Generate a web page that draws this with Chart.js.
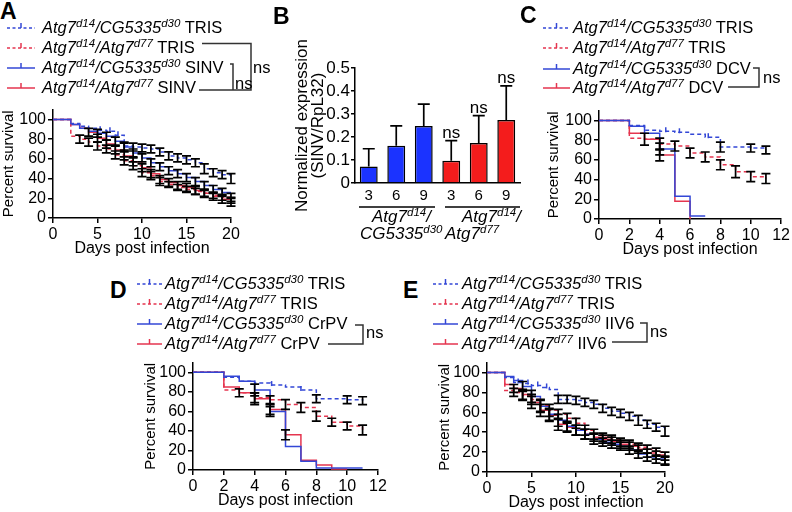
<!DOCTYPE html>
<html>
<head>
<meta charset="utf-8">
<script src="https://cdn.jsdelivr.net/npm/chart.js@4.4.1/dist/chart.umd.min.js"></script>
<style>
body { margin: 0; background: #fff; }
#fig { position: relative; width: 792px; height: 512px; overflow: hidden; font-family: 'Liberation Sans', Arial, sans-serif; color: #000; }
canvas { position: absolute; }
.lab { position: absolute; font-size: 23px; font-weight: bold; line-height: 23px; }
.row { position: absolute; height: 20px; line-height: 20px; font-size: 16.5px; white-space: nowrap; }
.row svg { position: absolute; top: 5px; left: 0; }
.row span { position: absolute; top: 0; }
.grp { position: absolute; height: 20px; line-height: 20px; font-size: 17px; font-style: italic; white-space: nowrap; }
sup { font-size: 11.5px; vertical-align: 6px; line-height: 0; }
.ns { position: absolute; font-size: 16.5px; line-height: 20px; }
</style>
</head>
<body>
<div id="fig">
  <canvas id="cA" width="243" height="160" style="left:0px;top:98px"></canvas>
  <canvas id="cB" width="230" height="195" style="left:295px;top:20px"></canvas>
  <canvas id="cC" width="247" height="160" style="left:545px;top:99px"></canvas>
  <canvas id="cD" width="248" height="159" style="left:142px;top:351px"></canvas>
  <canvas id="cE" width="241" height="161" style="left:436px;top:351px"></canvas>

  <div class="lab" style="left:0px;top:0px">A</div>
  <div class="lab" style="left:273px;top:5px">B</div>
  <div class="lab" style="left:520px;top:4px">C</div>
  <div class="lab" style="left:110px;top:279px">D</div>
  <div class="lab" style="left:403px;top:279px">E</div>

  <svg width="792" height="512" style="position:absolute;left:0;top:0" fill="none">
    <g stroke="#333" stroke-width="1.5">
      <path d="M202 43.5 H251 V90 H199"/>
      <path d="M230 64 H233 V90"/>
      <path d="M753 68 H759 V87 H728"/>
      <path d="M355 325 H363 V344 H328"/>
      <path d="M640 323 H647 V342 H612"/>
    </g>
    <g stroke="#000" stroke-width="1.5">
      <path d="M359 207 H435"/>
      <path d="M445 207 H520"/>
    </g>
  </svg>

  <div class="ns" style="left:253px;top:57px">ns</div>
  <div class="ns" style="left:235px;top:73px">ns</div>
  <div class="ns" style="left:763px;top:67px">ns</div>
  <div class="ns" style="left:366px;top:322px">ns</div>
  <div class="ns" style="left:650px;top:321px">ns</div>

  <div class="grp" style="left:372px;top:207px">Atg7<sup>d14</sup>/</div>
  <div class="grp" style="left:360px;top:224px">CG5335<sup>d30</sup></div>
  <div class="grp" style="left:462px;top:207px">Atg7<sup>d14</sup>/</div>
  <div class="grp" style="left:445px;top:224px">Atg7<sup>d77</sup></div>
</div>

<script>
// ---- panel A: SINV survival ----
const daysA = [0, 2, 3, 4, 5, 6, 7, 8, 9, 10, 11, 12, 13, 14, 15, 16, 17, 18, 19, 20];
const aCgTris = [100, 96, 93, 91, 89, 88, 84, 73, 72, 71, 70, 67, 63, 61, 59, 56, 50, 46, 44, 40];
const aCgTrisErr = [null, null, null, null, null, null, null, 4, 4, 4, 4, 4, 4, 4, 4, 4, 5, 4, 4, 5];
const aCgTrisCensor = [5.3, 6.4, 7.3];
const a77Tris = [100, 83, 80, 77, 73, 70, 64, 58, 53, 46, 43, 37, 34, 31, 29, 27, 25, 23, 21, 18];
const a77TrisErr = [null, null, 4, 4, 4, 4, 4, 4, 4, 4, 4, 4, 3, 3, 3, 3, 3, 3, 3, 3];
const aCgSinv = [100, 95, 91, 88, 86, 83, 78, 72, 66, 61, 56, 52, 48, 45, 41, 37, 33, 29, 26, 21];
const aCgSinvErr = [null, null, null, null, 4, 4, 4, 4, 4, 4, 4, 4, 4, 4, 4, 4, 4, 4, 4, 4];
const a77Sinv = [100, 95, 91, 87, 81, 75, 69, 63, 57, 51, 45, 39, 36, 33, 31, 28, 25, 22, 19, 16];
const a77SinvErr = [null, null, null, 4, 4, 4, 4, 4, 4, 4, 4, 4, 4, 4, 4, 4, 4, 4, 4, 4];

// ---- panel B: viral load ----
const bLabels = ['3', '6', '9', '3', '6', '9'];
const bMeans = [0.072, 0.162, 0.248, 0.097, 0.174, 0.274];
const bSd = [0.077, 0.086, 0.095, 0.087, 0.119, 0.148];
const bSig = ['', '', '', 'ns', 'ns', 'ns'];
const bTicks = [0, 0.1, 0.2, 0.3, 0.4, 0.5];

// ---- panel C: DCV survival ----
const daysC = [0, 2, 3, 4, 5, 6, 7, 8, 9, 10, 11];
const cCgTris = [100, 95, 90, 89, 88, 86, 83, 73, 73, 72, 70];
const cCgTrisErr = [null, null, null, null, null, null, null, 5, null, 4, 4];
const cCgTrisCensor = [4.4, 5.3, 7.2];
const c77Tris = [100, 82, 81, 76, 74, 67, 63, 55, 48, 43, 41];
const c77TrisErr = [null, null, 6, 6, 5, 5, 5, 5, 6, 5, 5];
const daysCCgDcv = [0, 2, 3, 4, 5, 6, 7];
const cCgDcv = [100, 94, 87, 71, 23, 3, 3];
const cCgDcvErr = [null, null, null, 6, null, null, null];
const daysC77Dcv = [0, 2, 3, 4, 5, 6];
const c77Dcv = [100, 87, 81, 65, 18, 0];
const c77DcvErr = [null, null, null, 6, null, null];

// ---- panel D: CrPV survival ----
const daysD = [0, 2, 3, 4, 5, 6, 7, 8, 9, 10, 11];
const dCgTris = [100, 95, 91, 89, 87, 85, 82, 73, 73, 72, 71];
const dCgTrisErr = [null, null, null, null, null, null, null, 4, null, 4, 4];
const dCgTrisCensor = [5.1, 7.0];
const d77Tris = [100, 82, 79, 74, 72, 67, 64, 55, 49, 45, 41];
const d77TrisErr = [null, null, 4, 5, 4, 5, 5, 5, 4, 4, 5];
const dCgCrpv = [100, 96, 91, 82, 60, 24, 9, 2, 2, 2, 2];
const dCgCrpvErr = [null, null, null, 6, 5, null, null, null, null, null, null];
const daysD77Crpv = [0, 2, 3, 4, 5, 6, 7, 8, 9, 10];
const d77Crpv = [100, 85, 79, 73, 62, 36, 10, 5, 1, 1];
const d77CrpvErr = [null, null, null, 6, 5, 5, null, null, null, null];

// ---- panel E: IIV6 survival ----
const daysE = [0, 2, 3, 4, 5, 6, 7, 8, 9, 10, 11, 12, 13, 14, 15, 16, 17, 18, 19, 20];
const eCgTris = [100, 95, 90, 89, 87, 85, 83, 73, 73, 72, 70, 68, 64, 61, 59, 56, 52, 48, 45, 41];
const eCgTrisErr = [null, null, null, null, null, null, null, 4, 4, 4, 4, 4, 4, 4, 4, 4, 5, 4, 4, 5];
const eCgTrisCensor = [3.5, 4.6, 5.7, 6.7];
const e77Tris = [100, 82, 80, 77, 73, 67, 62, 58, 54, 49, 42, 38, 35, 33, 30, 28, 25, 23, 20, 16];
const e77TrisErr = [null, null, 4, 5, 5, 6, 6, 5, 5, 5, 5, 5, 4, 4, 4, 4, 4, 4, 4, 4];
const eCgIiv6 = [100, 96, 92, 86, 76, 66, 58, 52, 46, 42, 38, 33, 30, 28, 26, 22, 18, 15, 13, 11];
const eCgIiv6Err = [null, null, null, 5, 6, 6, 6, 6, 5, 5, 5, 5, 4, 4, 4, 4, 4, 4, 4, 4];
const e77Iiv6 = [100, 88, 84, 78, 70, 62, 57, 48, 45, 42, 38, 35, 33, 31, 28, 26, 23, 19, 17, 12];
const e77Iiv6Err = [null, null, 4, 5, 6, 6, 6, 6, 5, 5, 5, 4, 4, 4, 4, 4, 4, 4, 4, 4];

const survivalTicks = [0, 20, 40, 60, 80, 100];

const BLUE = '#3347d6';
const RED = '#e5354f';
const CG = '<i>Atg7<sup>d14</sup>/CG5335<sup>d30</sup></i>';
const D77 = '<i>Atg7<sup>d14</sup>/Atg7<sup>d77</sup></i>';

Chart.defaults.font.family = "'Liberation Sans', Arial, sans-serif";
Chart.defaults.font.size = 16;
Chart.defaults.color = '#000';

// error bars, censor ticks and "ns" labels, all placed through the chart's scales
const errorBars = {
  id: 'errorBars',
  afterDatasetsDraw(chart) {
    const ctx = chart.ctx;
    const xs = chart.scales.x;
    const ys = chart.scales.y;
    ctx.save();
    chart.data.datasets.forEach((ds, i) => {
      // censor marks: small vertical ticks on the step curve
      if (ds.censor) {
        ctx.strokeStyle = ds.borderColor;
        ctx.lineWidth = 1.5;
        ds.censor.forEach(c => {
          let v = ds.data[0].y;
          ds.data.forEach(p => { if (p.x <= c) v = p.y; });
          const px = xs.getPixelForValue(c);
          const py = ys.getPixelForValue(v);
          ctx.beginPath();
          ctx.moveTo(px, py - 4); ctx.lineTo(px, py + 1);
          ctx.stroke();
        });
      }
      if (!ds.err) return;
      ctx.strokeStyle = '#000';
      ctx.fillStyle = '#000';
      ctx.lineWidth = 1.7;
      const meta = chart.getDatasetMeta(i);
      const cap = ds.cap || 4.5;
      ds.data.forEach((p, j) => {
        const e = ds.err[j];
        if (e == null) return;
        const v = typeof p === 'object' ? p.y : p;
        const x = meta.data[j].x;
        const top = ys.getPixelForValue(v + e);
        const bot = ds.upOnly ? ys.getPixelForValue(v) : ys.getPixelForValue(v - e);
        ctx.beginPath();
        ctx.moveTo(x, top); ctx.lineTo(x, bot);
        ctx.moveTo(x - cap, top); ctx.lineTo(x + cap, top);
        if (!ds.upOnly) { ctx.moveTo(x - cap, bot); ctx.lineTo(x + cap, bot); }
        ctx.stroke();
        if (ds.sig && ds.sig[j]) {
          ctx.font = "17px 'Liberation Sans', Arial, sans-serif";
          ctx.textAlign = 'center';
          ctx.textBaseline = 'alphabetic';
          ctx.fillText(ds.sig[j], x, top - 3);
        }
      });
    });
    ctx.restore();
  }
};

function curve(days, vals, err, color, dash, censor) {
  return {
    data: days.map((d, i) => ({ x: d, y: vals[i] })),
    err: err,
    censor: censor,
    borderColor: color,
    borderWidth: 1.5,
    borderDash: dash ? [4, 3] : [],
    stepped: true,
    pointRadius: 0,
    fill: false
  };
}

function survival(id, xmax, xstep, yw, pr, datasets) {
  new Chart(document.getElementById(id), {
    type: 'line',
    data: { datasets: datasets },
    options: {
      responsive: false,
      animation: false,
      layout: { padding: { top: 5, right: pr, left: 0, bottom: 0 } },
      plugins: { legend: { display: false }, tooltip: { enabled: false } },
      scales: {
        x: {
          type: 'linear', min: 0, max: xmax,
          ticks: { stepSize: xstep, padding: 2, maxRotation: 0, autoSkip: false },
          grid: { drawOnChartArea: false, tickLength: 5, color: '#000', lineWidth: 1.5 },
          border: { color: '#000', width: 1.5 },
          title: { display: true, text: 'Days post infection', padding: 0 },
          afterFit: s => { s.height = 40; }
        },
        y: {
          min: 0, max: 110,
          afterBuildTicks: s => { s.ticks = survivalTicks.map(v => ({ value: v })); },
          ticks: { padding: 2, autoSkip: false },
          grid: { drawOnChartArea: false, tickLength: 5, color: '#000', lineWidth: 1.5 },
          border: { color: '#000', width: 1.5 },
          title: { display: true, text: 'Percent survival', font: { size: 15 }, padding: 0 },
          afterFit: s => { s.width = yw; }
        }
      }
    },
    plugins: [errorBars]
  });
}

survival('cA', 20, 5, 53, 12, [
  curve(daysA, aCgTris, aCgTrisErr, BLUE, true, aCgTrisCensor),
  curve(daysA, a77Tris, a77TrisErr, RED, true),
  curve(daysA, aCgSinv, aCgSinvErr, BLUE, false),
  curve(daysA, a77Sinv, a77SinvErr, RED, false)
]);
survival('cC', 12, 2, 54, 9, [
  curve(daysC, cCgTris, cCgTrisErr, BLUE, true, cCgTrisCensor),
  curve(daysC, c77Tris, c77TrisErr, RED, true),
  curve(daysCCgDcv, cCgDcv, cCgDcvErr, BLUE, false),
  curve(daysC77Dcv, c77Dcv, c77DcvErr, RED, false)
]);
survival('cD', 12, 2, 51, 12, [
  curve(daysD, dCgTris, dCgTrisErr, BLUE, true, dCgTrisCensor),
  curve(daysD, d77Tris, d77TrisErr, RED, true),
  curve(daysD, dCgCrpv, dCgCrpvErr, BLUE, false),
  curve(daysD77Crpv, d77Crpv, d77CrpvErr, RED, false)
]);
survival('cE', 20, 5, 51, 12, [
  curve(daysE, eCgTris, eCgTrisErr, BLUE, true, eCgTrisCensor),
  curve(daysE, e77Tris, e77TrisErr, RED, true),
  curve(daysE, eCgIiv6, eCgIiv6Err, BLUE, false),
  curve(daysE, e77Iiv6, e77Iiv6Err, RED, false)
]);

// panel B bars
new Chart(document.getElementById('cB'), {
  type: 'bar',
  data: {
    labels: bLabels,
    datasets: [{
      data: bMeans,
      err: bSd,
      sig: bSig,
      upOnly: true,
      cap: 6,
      backgroundColor: bMeans.map((v, i) => i < 3 ? '#1b33ff' : '#f41c1c'),
      borderColor: '#000',
      borderWidth: 1.5,
      barPercentage: 0.65,
      categoryPercentage: 1
    }]
  },
  options: {
    responsive: false,
    animation: false,
    layout: { padding: { top: 48, right: 5, left: 0, bottom: 8 } },
    plugins: { legend: { display: false }, tooltip: { enabled: false } },
    scales: {
      x: {
        ticks: { padding: 4, font: { size: 15 }, autoSkip: false },
        grid: { drawOnChartArea: false, drawTicks: false },
        border: { color: '#000', width: 1.5 },
        afterFit: s => { s.height = 24; }
      },
      y: {
        min: 0, max: 0.5,
        afterBuildTicks: s => { s.ticks = bTicks.map(v => ({ value: v })); },
        ticks: { padding: 1, font: { size: 17 }, autoSkip: false, callback: v => String(v) },
        grid: { drawOnChartArea: false, tickLength: 4, color: '#000', lineWidth: 1.5 },
        border: { color: '#000', width: 1.5 },
        title: { display: true, text: ['Normalized expression', '(SINV/RpL32)'], font: { size: 17, lineHeight: 0.9 }, padding: 0 },
        afterFit: s => { s.width = 60; }
      }
    }
  },
  plugins: [errorBars]
});

// legends
function legendRow(x, cy, w, textX, color, dash, html) {
  const d = document.createElement('div');
  d.className = 'row';
  d.style.left = x + 'px';
  d.style.top = (cy - 10) + 'px';
  const m = w / 2;
  d.innerHTML =
    '<svg width="' + w + '" height="10"><line x1="0" y1="6" x2="' + w + '" y2="6" stroke="' + color +
    '" stroke-width="1.5"' + (dash ? ' stroke-dasharray="3,2.5"' : '') + '/>' +
    '<line x1="' + m + '" y1="1" x2="' + m + '" y2="6" stroke="' + color + '" stroke-width="1.5"/></svg>' +
    '<span style="left:' + (textX - x) + 'px">' + html + '</span>';
  document.getElementById('fig').appendChild(d);
}

const legends = [
  [7, 28, 42, [26.5, 47, 67, 86.5], 'SINV'],
  [543, 27, 573, [26.5, 47, 67.5, 87], 'DCV'],
  [137, 25, 165, [283, 303, 323, 343], 'CrPV'],
  [433, 25, 462, [283, 303, 323, 343], 'IIV6']
];
legends.forEach(([x, w, tx, ys, virus]) => {
  legendRow(x, ys[0], w, tx, BLUE, true, CG + ' TRIS');
  legendRow(x, ys[1], w, tx, RED, true, D77 + ' TRIS');
  legendRow(x, ys[2], w, tx, BLUE, false, CG + ' ' + virus);
  legendRow(x, ys[3], w, tx, RED, false, D77 + ' ' + virus);
});
</script>
</body>
</html>
